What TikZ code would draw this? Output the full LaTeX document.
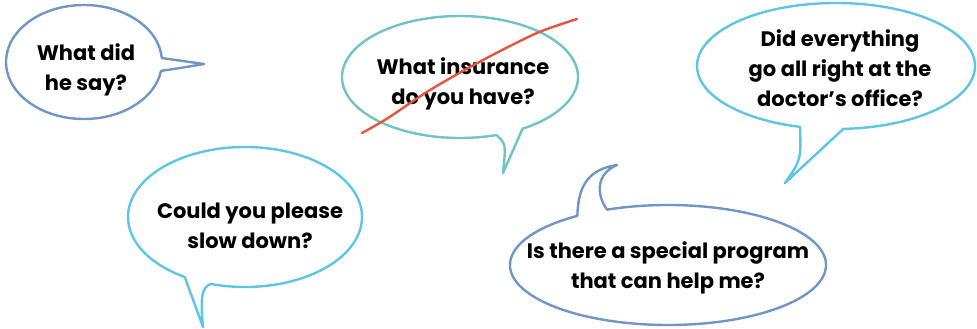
\documentclass[tikz,border=0pt]{standalone}
\usepackage{fontspec}
\setmainfont{Poppins}
\usetikzlibrary{calc}
\definecolor{steel}{HTML}{7096C8}
\definecolor{tealb}{HTML}{6EC5C3}
\definecolor{sky}{HTML}{5CC6E6}
\definecolor{redl}{HTML}{E8553E}
\begin{document}
\begin{tikzpicture}[x=1pt,y=1pt,
  bub/.style={line width=2.4pt, line join=round},
  txt/.style={font=\bfseries\fontsize{21}{30}\selectfont, align=center, text=black}]
\useasboundingbox (0,0) rectangle (977,329);
% bubble 1
\coordinate (c1) at (84,267);
\coordinate (t1) at (204,265);
\coordinate (s1) at ($(c1)+(4:78 and 57)$);
\draw[bub, draw=steel] (s1) arc[start angle=4,end angle=351,x radius=78,y radius=57]
  .. controls (180,261) .. (t1) -- cycle;
\node[txt] (n1) at (86,259) {What did\\he say?};
% bubble 2
\coordinate (c2) at (460,252);
\coordinate (t2) at (503,156);
\coordinate (s2) at ($(c2)+(-58:118 and 61)$);
\draw[bub, draw=tealb] (s2) arc[start angle=-58,end angle=288,x radius=118,y radius=61]
  .. controls (506,185) .. (t2) -- cycle;
\node[txt] (n2) at (463,245) {What insurance\\do you have?};
% bubble 3
\coordinate (c3) at (836,263);
\coordinate (t3) at (785,146);
\coordinate (s3) at ($(c3)+(-87:139 and 63)$);
\draw[bub, draw=sky] (s3) arc[start angle=-87,end angle=255,x radius=139,y radius=63]
  .. controls (801,169) .. (t3) -- cycle;
\node[txt] (n3) at (840,261) {Did everything\\go all right at the\\doctor’s office?};
% bubble 4
\coordinate (c4) at (245,112);
\coordinate (t4) at (203,2);
\coordinate (s4) at ($(c4)+(-107:117 and 70)$);
\draw[bub, draw=sky] (s4) arc[start angle=-107,end angle=239,x radius=117,y radius=70]
  -- (t4) .. controls (200,32) and (202,42) .. (s4) -- cycle;
\node[txt] (n4) at (250,103) {Could you please\\slow down?};
% bubble 5
\coordinate (c5) at (668,64);
\coordinate (t5) at (617,164);
\coordinate (s5) at ($(c5)+(125:158 and 60)$);
\draw[bub, draw=steel] (s5) arc[start angle=125,end angle=472.7,x radius=158,y radius=60]
  .. controls (596,135) and (596,155) .. (t5)
  .. controls (590,160) and (578,145) .. (s5) -- cycle;
\node[txt] (n5) at (668,61) {Is there a special program\\that can help me?};
% red strike
\coordinate (r1) at (362,196);
\coordinate (r2) at (577,310);
\draw[redl, line width=2.4pt, line cap=round] plot[smooth] coordinates {(r1) (388,211) (430,239) (483,269) (537,296) (r2)};
\end{tikzpicture}
\end{document}
